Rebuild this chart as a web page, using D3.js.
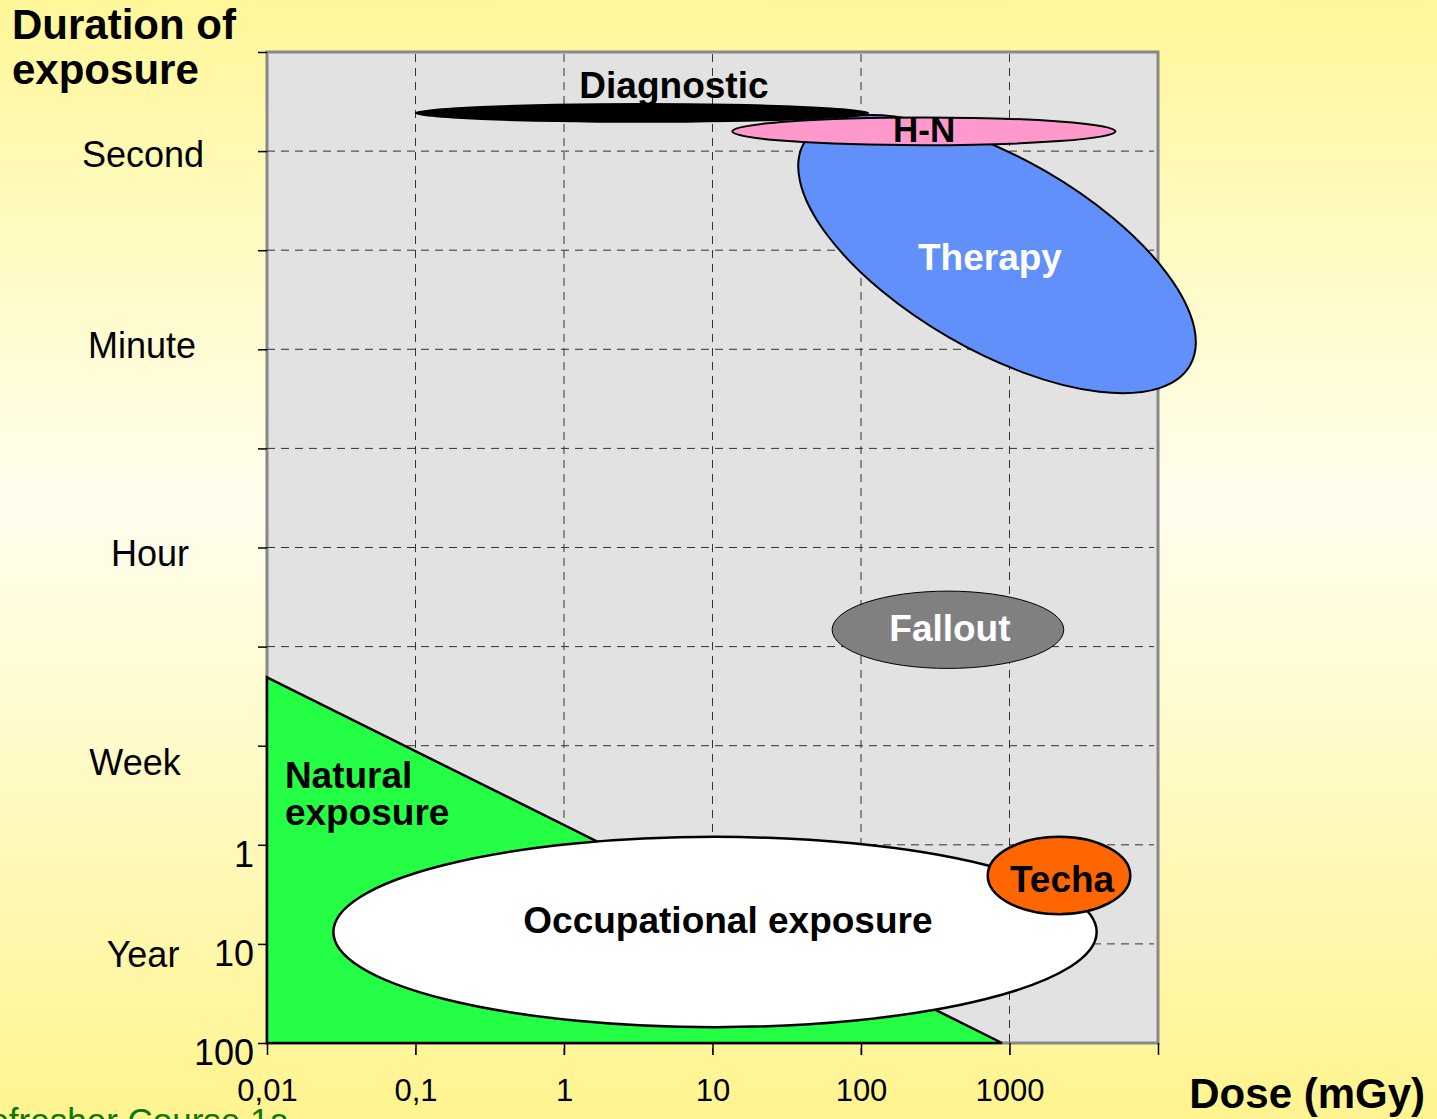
<!DOCTYPE html>
<html>
<head>
<meta charset="utf-8">
<script src="https://cdn.jsdelivr.net/npm/d3@7"></script>
<style>
  html, body { margin: 0; padding: 0; overflow: hidden; }
  svg { display: block; font-family: "Liberation Sans", Arial, sans-serif; }
</style>
</head>
<body>
<div id="chart"></div>
<script>
// Dose axis (log, mGy)
const doseTicks = [0.01, 0.1, 1, 10, 100, 1000, 10000];
const doseTickLabels = ['0,01', '0,1', '1', '10', '100', '1000', ''];
const doseGrid = [0.1, 1, 10, 100, 1000];

// Duration axis (ordinal steps 0..10)
const durationSteps = [0, 1, 2, 3, 4, 5, 6, 7, 8, 9, 10];
const durationGrid = [1, 2, 3, 4, 5, 6, 7, 8, 9];
const durationNumbers = ['', '', '', '', '', '', '', '', '1', '10', '100'];
const durationNames = ['Second', 'Minute', 'Hour', 'Week', 'Year'];
const durationNamePos = [1.16, 3.09, 5.19, 7.30, 9.23];

// Exposure regions (ellipses): centre dose, centre duration, half-width in decades, half-height in steps, tilt
const regionNames = ['Therapy', 'Diagnostic', 'H-N', 'Fallout', 'Occupational exposure', 'Techa'];
const regionDose = [824, 3.35, 265, 385, 10.4, 2155];
const regionDuration = [2.04, 0.615, 0.80, 5.83, 8.88, 8.31];
const regionDoseRadius = [1.50, 1.53, 1.29, 0.78, 2.57, 0.48];
const regionDurationRadius = [0.97, 0.10, 0.14, 0.39, 0.96, 0.39];
const regionTilt = [30, 0, 0, 0, 0, 0];
const regionLabelDose = [739, 5.5, 266, 397, 12.7, 2259];
const regionLabelDuration = [2.20, 0.464, 0.908, 5.94, 8.89, 8.48];

// Natural exposure triangle
const naturalDose = [0.01, 890, 0.01];
const naturalDuration = [6.31, 10, 10];
const naturalLabel = ['Natural', 'exposure'];
const naturalLabelDose = 0.0132;
const naturalLabelDuration = [7.43, 7.80];

const regionStyle = {
  'Therapy': { fill: '#6190FA', stroke: '#000', sw: 2, text: '#fff' },
  'Diagnostic': { fill: '#000', stroke: 'none', sw: 0, text: '#000' },
  'H-N': { fill: '#FF99CC', stroke: '#000', sw: 2, text: '#000' },
  'Fallout': { fill: '#808080', stroke: '#000', sw: 1, text: '#fff' },
  'Occupational exposure': { fill: '#fff', stroke: '#000', sw: 2.5, text: '#000' },
  'Techa': { fill: '#FF6600', stroke: '#000', sw: 2.5, text: '#000' }
};

// hand placed name labels, slight horizontal nudges
const nameNudge = { 'Second': 0, 'Minute': -1, 'Hour': 7, 'Week': -8, 'Year': 0 };

const W = 1437, H = 1119;
const plot = { left: 267, right: 1158, top: 52, bottom: 1043 };

const svg = d3.select('#chart').append('svg')
  .attr('width', W)
  .attr('height', H);

// background gradient
const defs = svg.append('defs');
const grad = defs.append('linearGradient')
  .attr('id', 'bg')
  .attr('x1', 0).attr('y1', 0).attr('x2', 0).attr('y2', 1);
grad.append('stop').attr('offset', '0%').attr('stop-color', '#FFF799');
grad.append('stop').attr('offset', '45%').attr('stop-color', '#FFFEEE');
grad.append('stop').attr('offset', '100%').attr('stop-color', '#FFF48F');

svg.append('rect')
  .attr('width', W).attr('height', H)
  .attr('fill', 'url(#bg)');

const x = d3.scaleLog()
  .domain([0.01, 10000])
  .range([plot.left, plot.right]);

const y = d3.scaleLinear()
  .domain([0, 10])
  .range([plot.top, plot.bottom]);

const decadePx = x(10) - x(1);
const stepPx = y(1) - y(0);

// plot area
svg.append('rect')
  .attr('x', plot.left)
  .attr('y', plot.top)
  .attr('width', plot.right - plot.left)
  .attr('height', plot.bottom - plot.top)
  .attr('fill', '#E2E2E2')
  .attr('stroke', '#888')
  .attr('stroke-width', 3);

// grid lines
svg.append('g')
  .selectAll('line')
  .data(doseGrid)
  .enter()
  .append('line')
  .attr('x1', d => x(d)).attr('x2', d => x(d))
  .attr('y1', plot.top + 2).attr('y2', plot.bottom + 12)
  .attr('stroke', '#333')
  .attr('stroke-width', 1)
  .attr('stroke-dasharray', '8,6');

svg.append('g')
  .selectAll('line')
  .data(durationGrid)
  .enter()
  .append('line')
  .attr('x1', plot.left).attr('x2', plot.right - 4)
  .attr('y1', d => y(d)).attr('y2', d => y(d))
  .attr('stroke', '#333')
  .attr('stroke-width', 1)
  .attr('stroke-dasharray', '8,6');

// axes
const xAxis = svg.append('g')
  .attr('transform', `translate(0,${plot.bottom})`)
  .call(d3.axisBottom(x)
    .tickValues(doseTicks)
    .tickSize(12)
    .tickPadding(24)
    .tickFormat((d, i) => doseTickLabels[i]));
xAxis.select('.domain').remove();
xAxis.selectAll('.tick line').attr('stroke', '#000').attr('stroke-width', 1.5);
xAxis.selectAll('.tick text')
  .style('font-size', '31px')
  .style('font-family', '"Liberation Sans", Arial, sans-serif')
  .attr('fill', '#000');

const yAxis = svg.append('g')
  .attr('transform', `translate(${plot.left},0)`)
  .call(d3.axisLeft(y)
    .tickValues(durationSteps)
    .tickSize(9)
    .tickPadding(4)
    .tickFormat((d, i) => durationNumbers[i]));
yAxis.select('.domain').remove();
yAxis.selectAll('.tick line').attr('stroke', '#000').attr('stroke-width', 1.5);
yAxis.selectAll('.tick text')
  .style('font-size', '36px')
  .style('font-family', '"Liberation Sans", Arial, sans-serif')
  .attr('fill', '#000')
  .attr('dy', '0.6em');

// natural exposure triangle
const naturalPts = naturalDose.map((d, i) => [x(d), y(naturalDuration[i])]);
svg.append('path')
  .attr('d', d3.line()(naturalPts) + 'Z')
  .attr('fill', '#24FF46')
  .attr('stroke', '#000')
  .attr('stroke-width', 2.5)
  .attr('stroke-linejoin', 'miter');

// ellipses
const regions = regionNames.map((name, i) => ({
  name,
  cx: x(regionDose[i]),
  cy: y(regionDuration[i]),
  rx: regionDoseRadius[i] * decadePx,
  ry: regionDurationRadius[i] * stepPx,
  tilt: regionTilt[i],
  lx: x(regionLabelDose[i]),
  ly: y(regionLabelDuration[i])
}));

regions.forEach(r => {
  const st = regionStyle[r.name];
  svg.append('ellipse')
    .attr('cx', 0).attr('cy', 0)
    .attr('rx', r.rx).attr('ry', r.ry)
    .attr('transform', `translate(${r.cx},${r.cy}) rotate(${r.tilt})`)
    .attr('fill', st.fill)
    .attr('stroke', st.stroke)
    .attr('stroke-width', st.sw);
});

regions.forEach(r => {
  svg.append('text')
    .attr('x', r.lx)
    .attr('y', r.ly)
    .attr('text-anchor', 'middle')
    .style('font-size', r.name === 'H-N' ? '35px' : '37px')
    .style('font-weight', 'bold')
    .attr('fill', regionStyle[r.name].text)
    .text(r.name);
});

naturalLabel.forEach((t, i) => {
  svg.append('text')
    .attr('x', x(naturalLabelDose))
    .attr('y', y(naturalLabelDuration[i]))
    .style('font-size', '37px')
    .style('font-weight', 'bold')
    .attr('fill', '#000')
    .text(t);
});

// duration names
svg.append('g')
  .selectAll('text')
  .data(durationNames)
  .enter()
  .append('text')
  .attr('x', d => 143 + nameNudge[d])
  .attr('y', (d, i) => y(durationNamePos[i]))
  .attr('text-anchor', 'middle')
  .style('font-size', '36px')
  .attr('fill', '#000')
  .text(d => d);

// axis titles
svg.append('text')
  .attr('x', 12).attr('y', 39)
  .style('font-size', '42px')
  .style('font-weight', 'bold')
  .attr('fill', '#000')
  .text('Duration of');
svg.append('text')
  .attr('x', 12).attr('y', 84)
  .style('font-size', '42px')
  .style('font-weight', 'bold')
  .attr('fill', '#000')
  .text('exposure');

svg.append('text')
  .attr('x', 1425).attr('y', 1108)
  .attr('text-anchor', 'end')
  .style('font-size', '42px')
  .style('font-weight', 'bold')
  .attr('fill', '#000')
  .text('Dose (mGy)');

// footer
svg.append('text')
  .attr('x', 289).attr('y', 1133)
  .attr('text-anchor', 'end')
  .style('font-size', '35px')
  .attr('fill', '#0E760E')
  .text('Refresher Course 1a');
</script>
</body>
</html>
